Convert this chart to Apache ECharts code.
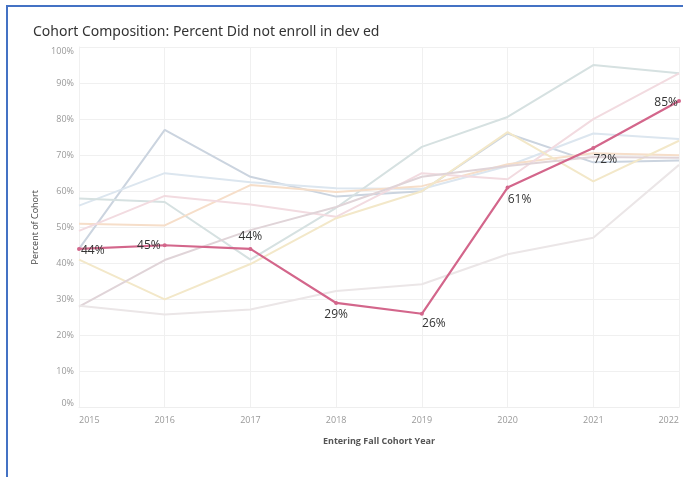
<!DOCTYPE html>
<html>
<head>
<meta charset="utf-8">
<style>
  html, body { margin: 0; padding: 0; background: #ffffff; }
  #chart { width: 683px; height: 477px; }
</style>
<script src="https://cdn.jsdelivr.net/npm/echarts@6/dist/echarts.min.js"></script>
</head>
<body>
<div id="chart"></div>
<script>
// Entering fall cohort years
const years = ['2015', '2016', '2017', '2018', '2019', '2020', '2021', '2022'];

// Highlighted group: percent who did not enroll in dev ed
const didNotEnroll = [44, 45, 44, 29, 26, 61, 72, 85];

// Other cohort groups, drawn faded in the background
const groupSteel = [44, 77, 64, 58.5, 60, 76, 68, 68.5];
const groupSky = [56, 65, 62.5, 60.8, 60.6, 67, 76, 74.5];
const groupTeal = [58, 57, 41, 55.4, 72.3, 80.6, 95, 92.7];
const groupPeach = [51, 50.5, 61.7, 59.8, 61.4, 67.5, 70.5, 70];
const groupRose = [49, 58.7, 56.3, 52.9, 65, 63.3, 80, 92.7];
const groupSand = [41, 30, 39.8, 52.5, 60, 76.4, 62.7, 74];
const groupMauve = [28, 40.9, 49.2, 55.6, 64, 67, 69.5, 69.3];
const groupAsh = [28.2, 25.8, 27.2, 32.3, 34.2, 42.5, 47.1, 67.3];

// Label placement for each highlighted point
const labelSpots = ['right', 'left', 'top', 'bottom', 'bottom', 'bottom', 'bottom', 'left'];
const labelShift = [[-4, 2], [2, 0], [0, 0], [0, 0], [12, -2], [12, 0], [12, 0], [5, 2]];

const faded = [
  { name: 'Steel', data: groupSteel, color: '#cbd4df' },
  { name: 'Sky', data: groupSky, color: '#dce6ef' },
  { name: 'Teal', data: groupTeal, color: '#d6e1e1' },
  { name: 'Peach', data: groupPeach, color: '#f6dec9' },
  { name: 'Rose', data: groupRose, color: '#f2dbe0' },
  { name: 'Sand', data: groupSand, color: '#f3e8c9' },
  { name: 'Mauve', data: groupMauve, color: '#e0d4d8' },
  { name: 'Ash', data: groupAsh, color: '#ebe6e7' }
];

const chart = echarts.init(document.getElementById('chart'), null, { renderer: 'canvas' });

const series = faded.map(s => ({
  name: s.name,
  type: 'line',
  data: s.data,
  symbol: 'none',
  silent: true,
  lineStyle: { width: 2, color: s.color },
  z: 2
}));

series.push({
  name: 'Did not enroll in dev ed',
  type: 'line',
  data: didNotEnroll.map((v, i) => ({
    value: v,
    label: {
      position: labelSpots[i],
      offset: labelShift[i]
    }
  })),
  symbol: 'circle',
  symbolSize: 4,
  itemStyle: { color: '#d3668b' },
  lineStyle: { width: 2.2, color: '#d3668b' },
  label: {
    show: true,
    formatter: p => p.value + '%',
    color: '#333333',
    fontSize: 12,
    fontFamily: 'Open Sans',
    distance: 4
  },
  z: 5
});

chart.setOption({
  animation: false,
  backgroundColor: '#ffffff',
  title: {
    text: 'Cohort Composition: Percent Did not enroll in dev ed',
    left: 28,
    top: 20,
    textStyle: { fontFamily: 'Noto Sans', fontSize: 14, fontWeight: 'normal', color: '#333333' }
  },
  graphic: [
    { type: 'line', shape: { x1: 7, y1: 5, x2: 7, y2: 477 }, style: { stroke: '#4472c4', lineWidth: 2 } },
    { type: 'line', shape: { x1: 6, y1: 6, x2: 683, y2: 6 }, style: { stroke: '#4472c4', lineWidth: 2 } }
  ],
  grid: { left: 79, right: 4, top: 47, bottom: 69.5, containLabel: false },
  xAxis: {
    type: 'category',
    data: years,
    boundaryGap: false,
    name: 'Entering Fall Cohort Year',
    nameLocation: 'middle',
    nameGap: 29,
    nameTextStyle: { fontFamily: 'Open Sans', fontSize: 9, fontWeight: 'bold', color: '#555555' },
    axisLine: { show: true, lineStyle: { color: '#eeeeee' } },
    axisTick: { show: false },
    axisLabel: {
      color: '#999999', fontSize: 9, fontFamily: 'Open Sans', margin: 8,
      alignMinLabel: 'left', alignMaxLabel: 'right'
    },
    splitLine: { show: true, lineStyle: { color: '#f0f0f0', width: 1 } }
  },
  yAxis: {
    type: 'value',
    min: 0,
    max: 100,
    interval: 10,
    name: 'Percent of Cohort',
    nameLocation: 'middle',
    nameGap: 37,
    nameRotate: 90,
    nameTextStyle: { fontFamily: 'Open Sans', fontSize: 9, color: '#444444' },
    axisLine: { show: true, lineStyle: { color: '#f0f0f0' } },
    axisTick: { show: false },
    axisLabel: {
      formatter: '{value}%',
      color: '#999999', fontSize: 9, fontFamily: 'Open Sans', margin: 5,
      verticalAlignMinLabel: 'bottom', verticalAlignMaxLabel: 'top'
    },
    splitLine: { show: true, lineStyle: { color: '#f0f0f0', width: 1 } }
  },
  series: series
});
</script>
</body>
</html>
